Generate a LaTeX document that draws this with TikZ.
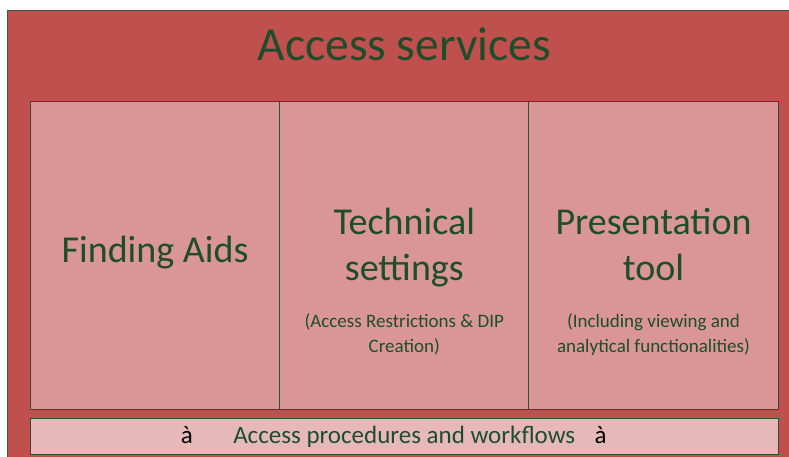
\documentclass[tikz,border=0pt]{standalone}
\usepackage{fontspec}
\setmainfont{Carlito}
\usepackage{xcolor}
\usetikzlibrary{positioning}
\definecolor{access-red}{HTML}{C0504D}
\definecolor{column-pink}{HTML}{D99694}
\definecolor{strip-pink}{HTML}{E6B9B8}
\definecolor{label-green}{HTML}{1E4D2B}
\definecolor{edge-green}{HTML}{2A4F31}
\tikzset{
    outer-box/.style = {draw=edge-green!80!gray, fill=access-red, line width=1pt, rectangle, inner sep=0pt, outer sep=0pt},
    column-box/.style = {draw=edge-green, fill=column-pink, line width=1pt, rectangle, inner sep=0pt, outer sep=0pt, minimum width=249.2pt, minimum height=307.5pt},
    strip-box/.style = {draw=edge-green, fill=strip-pink, line width=1pt, rectangle, inner sep=0pt, outer sep=0pt, minimum width=747.5pt, minimum height=35.3pt},
    title-text/.style = {text=label-green, inner sep=0pt, font=\fontsize{47.5}{57}\selectfont},
    heading-text/.style = {text=label-green, inner sep=0pt, align=center, font=\fontsize{38}{46}\selectfont},
    note-text/.style = {text=label-green, inner sep=0pt, align=center, font=\fontsize{19}{25}\selectfont},
    strip-text/.style = {text=label-green, inner sep=0pt, font=\fontsize{25}{30}\selectfont},
}

\begin{document}
\begin{tikzpicture}[x=1pt, y=-1pt]
\clip (0,0) rectangle (789,457);
\node [outer-box, anchor=north west, minimum width=790pt, minimum height=452pt] (access) at (7.5,11) {};
\node [title-text, anchor=base] (title) at (404.2,61) {Access services};

% three columns
\node [column-box, anchor=north west] (finding) at (30.5,101.5) {};
\node [column-box, right=0pt of finding] (technical) {};
\node [column-box, right=0pt of technical] (presentation) {};

\node [heading-text, anchor=base, yshift=-160.5pt] (finding-label) at (finding.north) {Finding Aids};
\node [heading-text, anchor=base, yshift=-178.5pt] (technical-label) at (technical.north) {Technical\\settings};
\node [note-text, anchor=base, yshift=-250.5pt] (technical-note) at (technical.north) {(Access Restrictions \& DIP\\Creation)};
\node [heading-text, anchor=base, yshift=-178.5pt] (presentation-label) at (presentation.north) {Presentation\\tool};
\node [note-text, anchor=base, yshift=-250.5pt] (presentation-note) at (presentation.north) {(Including viewing and\\analytical functionalities)};

% bottom strip
\node [strip-box, below right=9.7pt and 0pt of finding.south west] (workflows) {};
\node [strip-text, anchor=base, yshift=-24.6pt] (workflows-label) at (workflows.north) {Access procedures and workflows};
\node [strip-text, text=black, base left=40pt of workflows-label] (arrow-left) {à};
\node [strip-text, text=black, base right=19pt of workflows-label] (arrow-right) {à};
\end{tikzpicture}
\end{document}
